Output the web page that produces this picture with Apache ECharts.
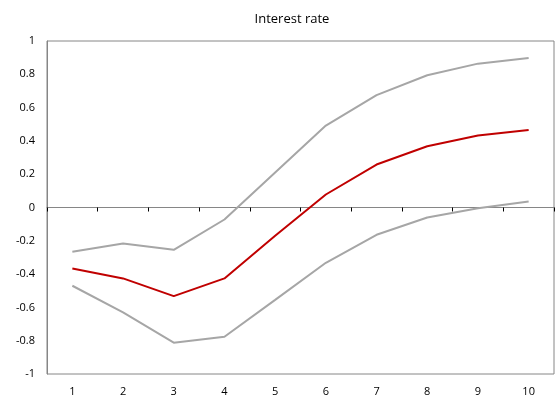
<!DOCTYPE html>
<html>
<head>
<meta charset="utf-8">
<script src="https://cdn.jsdelivr.net/npm/echarts@6/dist/echarts.min.js"></script>
<style>html,body{margin:0;padding:0;background:#fff}#c{width:557px;height:401px}</style>
</head>
<body>
<div id="c"></div>
<script>
const categories = ['1','2','3','4','5','6','7','8','9','10'];
const response = [-0.366, -0.426, -0.532, -0.426, -0.17, 0.078, 0.258, 0.368, 0.432, 0.466];
const upperBand = [-0.266, -0.216, -0.254, -0.072, 0.21, 0.492, 0.675, 0.794, 0.864, 0.898];
const lowerBand = [-0.47, -0.63, -0.812, -0.776, -0.555, -0.332, -0.164, -0.06, -0.004, 0.036];
const chartTitle = 'Interest rate';

const chart = echarts.init(document.getElementById('c'));
const font = '"Open Sans", "Liberation Sans", sans-serif';
chart.setOption({
  animation: false,
  title: {
    text: chartTitle, left: 287, top: 8, textAlign: 'center',
    textStyle: { fontFamily: font, fontSize: 13, fontWeight: 'normal', color: '#000' }
  },
  grid: {
    left: 47, right: 3, top: 41, bottom: 27,
    show: true, borderColor: '#868686', borderWidth: 1, backgroundColor: 'transparent'
  },
  xAxis: [
    {
      type: 'category', data: categories, position: 'bottom',
      axisLine: { show: true, onZero: true, lineStyle: { color: '#868686', width: 1 } },
      axisTick: { show: true, length: 4, lineStyle: { color: '#000' } },
      axisLabel: { show: false }
    },
    {
      type: 'category', data: categories, position: 'bottom',
      axisLine: { show: false, onZero: false },
      axisTick: { show: false },
      axisLabel: { show: true, margin: 12, fontFamily: font, fontSize: 11, color: '#000' }
    }
  ],
  yAxis: {
    type: 'value', min: -1, max: 1, interval: 0.2,
    axisLine: { show: true, lineStyle: { color: '#868686' } },
    axisTick: { show: false },
    splitLine: { show: false },
    axisLabel: { margin: 12, fontFamily: font, fontSize: 11, color: '#000',
      formatter: v => String(Math.round(v * 10) / 10) }
  },
  series: [
    { type: 'line', data: upperBand, symbol: 'none', lineStyle: { color: '#A6A6A6', width: 2 } },
    { type: 'line', data: lowerBand, symbol: 'none', lineStyle: { color: '#A6A6A6', width: 2 } },
    { type: 'line', data: response, symbol: 'none', lineStyle: { color: '#C00000', width: 2 }, z: 3 }
  ]
});
</script>
</body>
</html>
